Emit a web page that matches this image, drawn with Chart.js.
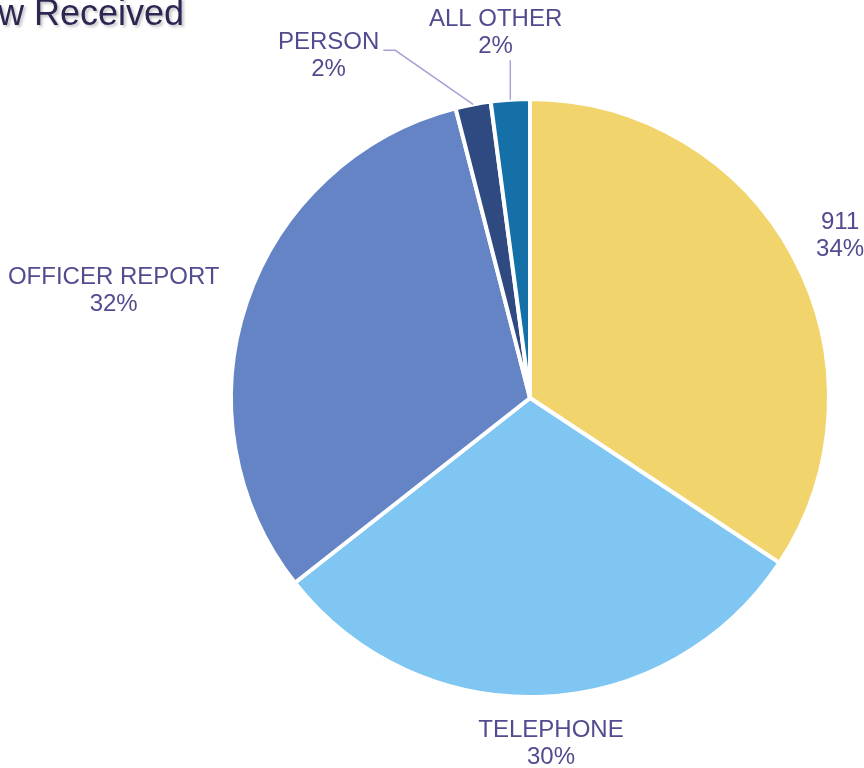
<!DOCTYPE html>
<html>
<head>
<meta charset="utf-8">
<script src="https://cdn.jsdelivr.net/npm/chart.js@4.4.0/dist/chart.umd.min.js"></script>
<style>
  html, body { margin: 0; padding: 0; background: #ffffff; }
  canvas { display: block; }
</style>
</head>
<body>
<canvas id="chart-received" width="864" height="768"></canvas>
<script>
/* Chart data (share of calls, percent) */
const categories = ['911', 'TELEPHONE', 'OFFICER REPORT', 'PERSON', 'ALL OTHER'];
const shares = [34.3, 30.1, 31.6, 1.9, 2.1];
const chartTitle = 'How Received';

/* Slice colours */
const sliceColors = ['#F2D46D', '#7FC6F2', '#6484C6', '#2F4A81', '#1570A8'];

/* Label nudges (px) from the default spot outside each slice */
const labelNudge = [[8, 2], [5, 0], [-14, 4], [-131, -2], [-9, -20]];

const labelFont = '24px "Liberation Sans", Arial, sans-serif';
const labelColor = '#514B8F';
const leaderColor = '#A8A2D4';
const lineGap = 27;

// Title drawn flush with the left edge, partly cut off like the source
const titlePlugin = {
    id: 'cutTitle',
    afterDraw(chart) {
        const ctx = chart.ctx;
        ctx.save();
        ctx.font = '36px "Liberation Sans", Arial, sans-serif';
        ctx.textBaseline = 'alphabetic';
        ctx.textAlign = 'left';
        ctx.shadowColor = 'rgba(0,0,0,0.25)';
        ctx.shadowOffsetX = 2;
        ctx.shadowOffsetY = 2;
        ctx.shadowBlur = 3;
        ctx.fillStyle = '#2B2752';
        ctx.fillText(chartTitle, -48, 25);
        ctx.restore();
    }
};

// Category + percent labels outside the pie, leader lines for small slices
const outsideLabels = {
    id: 'outsideLabels',
    afterDraw(chart) {
        const ctx = chart.ctx;
        const arcs = chart.getDatasetMeta(0).data;
        const total = shares.reduce((a, b) => a + b, 0);
        ctx.save();
        ctx.font = labelFont;
        ctx.textAlign = 'center';
        ctx.textBaseline = 'middle';
        arcs.forEach((arc, i) => {
            const mid = (arc.startAngle + arc.endAngle) / 2;
            const cx = arc.x, cy = arc.y, r = arc.outerRadius;
            const pct = Math.round(shares[i] / total * 100) + '%';
            const w = Math.max(ctx.measureText(categories[i]).width, ctx.measureText(pct).width);
            const halfH = lineGap;
            const d = r + 20;
            let lx = cx + Math.cos(mid) * d + Math.cos(mid) * w / 2;
            let ly = cy + Math.sin(mid) * d + Math.sin(mid) * halfH;
            lx += labelNudge[i][0];
            ly += labelNudge[i][1];

            if (shares[i] / total < 0.05) {
                const ax = cx + Math.cos(mid) * r;
                const ay = cy + Math.sin(mid) * r;
                ctx.strokeStyle = leaderColor;
                ctx.lineWidth = 1.5;
                ctx.beginPath();
                if (Math.abs(ax - lx) < w / 2) {
                    ctx.moveTo(ax, ay);
                    ctx.lineTo(ax, ly + lineGap / 2 + 14);
                } else {
                    const ex = lx + w / 2 + 4;
                    const ey = ly - 6;
                    ctx.moveTo(ax, ay);
                    ctx.lineTo(ex + 12, ey);
                    ctx.lineTo(ex, ey);
                }
                ctx.stroke();
            }

            ctx.fillStyle = labelColor;
            ctx.fillText(categories[i], lx, ly - lineGap / 2);
            ctx.fillText(pct, lx, ly + lineGap / 2);
        });
        ctx.restore();
    }
};

new Chart(document.getElementById('chart-received'), {
    type: 'pie',
    data: {
        labels: categories,
        datasets: [{
            data: shares,
            backgroundColor: sliceColors,
            borderColor: '#ffffff',
            borderWidth: 4
        }]
    },
    options: {
        responsive: false,
        animation: false,
        layout: { padding: { left: 229, right: 33, top: 97, bottom: 69 } },
        plugins: {
            legend: { display: false },
            tooltip: { enabled: false },
            title: { display: false }
        }
    },
    plugins: [titlePlugin, outsideLabels]
});
</script>
</body>
</html>
